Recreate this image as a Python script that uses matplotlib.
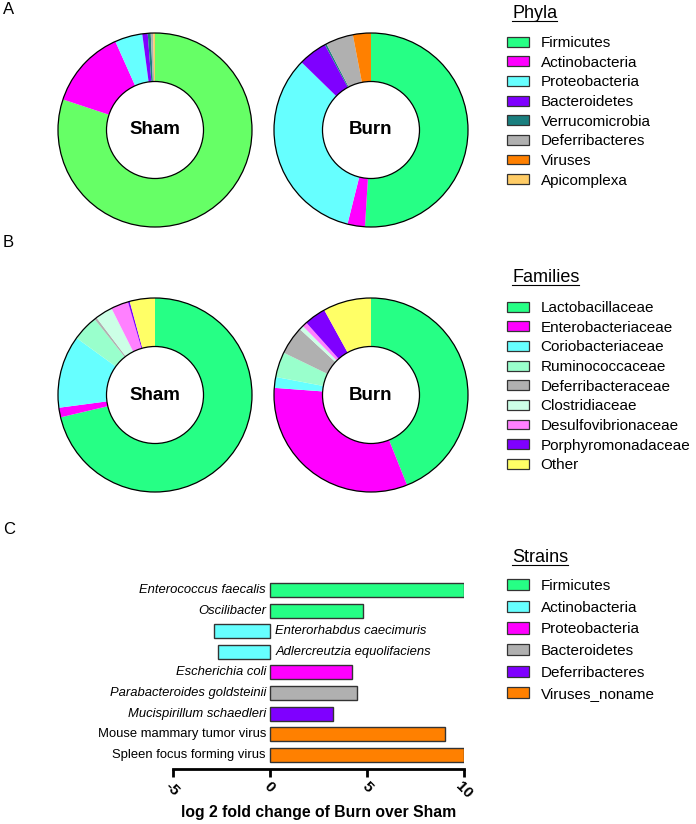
import matplotlib
matplotlib.use("Agg")
import matplotlib.pyplot as plt
from matplotlib.patches import Patch, Circle
from matplotlib.lines import Line2D

plt.rcParams['font.family'] = ['Liberation Sans', 'DejaVu Sans']

# ---- data ----
phyla = ['Firmicutes', 'Actinobacteria', 'Proteobacteria', 'Bacteroidetes',
         'Verrucomicrobia', 'Deferribacteres', 'Viruses', 'Apicomplexa']
phyla_colors = ['#26FF85', '#FF00FF', '#66FFFF', '#7F00FF',
                '#1A7F7F', '#B0B0B0', '#FF8000', '#FFCC66']
phyla_sham = [80.1, 13.2, 4.6, 0.9, 0.5, 0.4, 0.0, 0.3]
phyla_burn = [51.0, 2.9, 33.4, 4.8, 0.3, 4.6, 3.0, 0.0]

families = ['Lactobacillaceae', 'Enterobacteriaceae', 'Coriobacteriaceae',
            'Ruminococcaceae', 'Deferribacteraceae', 'Clostridiaceae',
            'Desulfovibrionaceae', 'Porphyromonadaceae', 'Other']
family_colors = ['#26FF85', '#FF00FF', '#66FFFF', '#99FFCC', '#B0B0B0',
                 '#CCFFE6', '#FF80FF', '#7F00FF', '#FFFF66']
families_sham = [71.3, 1.6, 12.1, 4.3, 0.4, 2.9, 2.9, 0.3, 4.2]
families_burn = [43.9, 32.2, 1.8, 4.2, 4.7, 0.7, 0.8, 3.6, 8.0]

strains = ['Enterococcus faecalis', 'Oscilibacter', 'Enterorhabdus caecimuris',
           'Adlercreutzia equolifaciens', 'Escherichia coli',
           'Parabacteroides goldsteinii', 'Mucispirillum schaedleri',
           'Mouse mammary tumor virus', 'Spleen focus forming virus']
log2fc = [10.0, 4.8, -2.84, -2.67, 4.26, 4.48, 3.24, 9.0, 10.0]
strain_group = ['Firmicutes', 'Firmicutes', 'Actinobacteria', 'Actinobacteria',
                'Proteobacteria', 'Bacteroidetes', 'Deferribacteres',
                'Viruses_noname', 'Viruses_noname']
strain_groups = ['Firmicutes', 'Actinobacteria', 'Proteobacteria',
                 'Bacteroidetes', 'Deferribacteres', 'Viruses_noname']
group_colors = ['#26FF85', '#66FFFF', '#FF00FF', '#B0B0B0', '#7F00FF', '#FF8000']
italic_names = [True] * 7 + [False] * 2

W, H = 696, 824
fig = plt.figure(figsize=(W / 100, H / 100), dpi=100)


def px_axes(cx, cy, w, h):
    return fig.add_axes([(cx - w / 2) / W, 1 - (cy + h / 2) / H, w / W, h / H])


def donut(cx, cy, values, colors, label, first_color=None):
    R = 97
    ax = px_axes(cx, cy, 2.1 * R, 2.1 * R)
    cols = list(colors)
    if first_color:
        cols[0] = first_color
    ax.pie(values, colors=cols, startangle=90, counterclock=False, radius=1,
           wedgeprops=dict(width=0.5, linewidth=0))
    ax.add_patch(Circle((0, 0), 1, fill=False, ec='black', lw=0.9))
    ax.add_patch(Circle((0, 0), 0.5, fill=False, ec='black', lw=0.9))
    ax.text(0, 0, label, ha='center', va='center', fontsize=13.5, fontweight='bold')
    ax.set_xlim(-1.05, 1.05)
    ax.set_ylim(-1.05, 1.05)
    ax.set_aspect('equal')
    ax.axis('off')


donut(155, 130, phyla_sham, phyla_colors, 'Sham', first_color='#66FF66')
donut(371, 130, phyla_burn, phyla_colors, 'Burn')
donut(155, 395, families_sham, family_colors, 'Sham')
donut(371, 395, families_burn, family_colors, 'Burn')

# panel letters
for letter, y in [('A', 9), ('B', 243), ('C', 530)]:
    fig.text(3 / W, 1 - y / H, letter, fontsize=12, va='center', ha='left')

# ---- legends ----
fig.canvas.draw()
renderer = fig.canvas.get_renderer()


def header(text, y):
    t = fig.text(512 / W, 1 - y / H, text, fontsize=13, va='center', ha='left')
    bb = t.get_window_extent(renderer)
    yl = bb.y0 + 1
    fig.add_artist(Line2D([bb.x0 / W, bb.x1 / W], [yl / H, yl / H],
                          color='black', lw=0.8, transform=fig.transFigure))


def legend(names, colors, top, spacing, hh):
    handles = [Patch(facecolor=c, edgecolor='#333333', linewidth=0.9) for c in colors]
    fig.legend(handles, names, loc='upper left',
               bbox_to_anchor=(507 / W, 1 - top / H), frameon=False,
               fontsize=11, borderpad=0, borderaxespad=0,
               handlelength=1.45, handleheight=hh, handletextpad=0.75,
               labelspacing=spacing)


header('Phyla', 13)
legend(phyla, phyla_colors, 36, 0.37, 0.62)
header('Families', 277)
legend(families, family_colors, 301, 0.37, 0.62)
header('Strains', 557)
legend(strain_groups, group_colors, 579, 0.5, 0.75)

# ---- bar chart ----
ax = fig.add_axes([172.5 / W, 1 - 769 / H, (464 - 172.5) / W, (769 - 577.6) / H])
bar_colors = [group_colors[strain_groups.index(g)] for g in strain_group]
ypos = list(range(len(strains)))
ax.barh(ypos, log2fc, height=0.68, color=bar_colors,
        edgecolor='#333333', linewidth=1)
for i, (name, v, it) in enumerate(zip(strains, log2fc, italic_names)):
    style = 'italic' if it else 'normal'
    if v > 0:
        ax.text(-0.19, i, name, ha='right', va='center', fontsize=9.4, style=style)
    else:
        ax.text(0.3, i, name, ha='left', va='center', fontsize=9.4, style=style)
ax.set_xlim(-5, 10)
ax.set_ylim(8.68, -0.6)
ax.set_xticks([-5, 0, 5, 10])
ax.set_xticklabels(['-5', '0', '5', '10'], rotation=-45, fontsize=11,
                   fontweight='bold', ha='center')
ax.set_yticks([])
for s in ['top', 'right', 'left']:
    ax.spines[s].set_visible(False)
ax.spines['bottom'].set_linewidth(2)
ax.tick_params(axis='x', direction='out', length=6, width=2, pad=1)
ax.set_xlabel('log 2 fold change of Burn over Sham', fontsize=11.3,
              fontweight='bold', labelpad=3)

fig.savefig('out.png', dpi=100)
